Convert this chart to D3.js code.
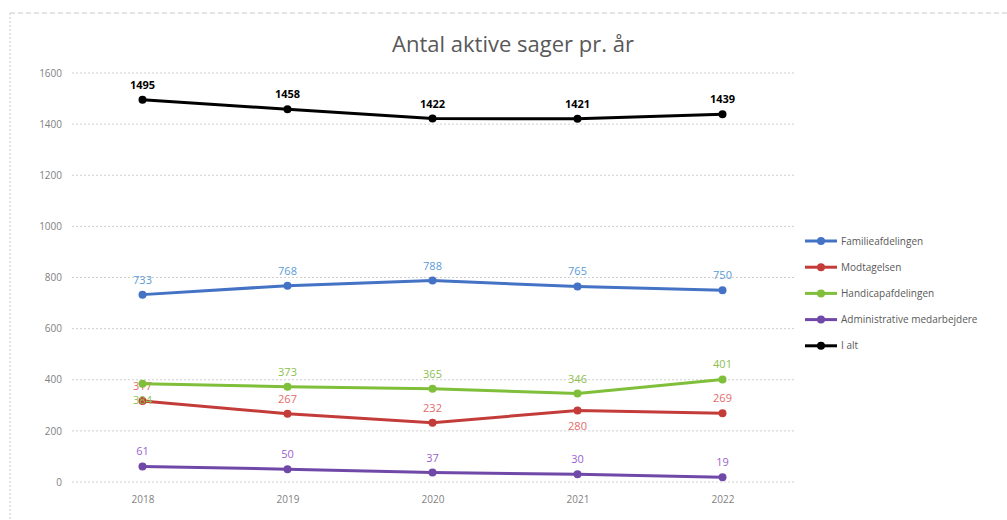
<!DOCTYPE html>
<html>
<head>
<meta charset="utf-8">
<script src="https://cdn.jsdelivr.net/npm/d3@7"></script>
<style>
  body { margin: 0; background: #fff; }
  text { font-family: "Open Sans", "Noto Sans", sans-serif; }
</style>
</head>
<body>
<div class="chart"></div>
<script>
const years = ["2018", "2019", "2020", "2021", "2022"];
const yTicks = [0, 200, 400, 600, 800, 1000, 1200, 1400, 1600];

const familie = [733, 768, 788, 765, 750];
const modtagelsen = [317, 267, 232, 280, 269];
const handicap = [384, 373, 365, 346, 401];
const admin = [61, 50, 37, 30, 19];
const ialt = [1495, 1458, 1422, 1421, 1439];

const seriesNames = ["Familieafdelingen", "Modtagelsen", "Handicapafdelingen",
  "Administrative medarbejdere", "I alt"];
// label above (-1) or below (1) the point
const modtagelsenPos = [-1, -1, -1, 1, -1];
const handicapPos = [1, -1, -1, -1, -1];

const width = 1007, height = 520;
const margin = { left: 70, right: 212, top: 73, bottom: 38 };

const svg = d3.select(".chart").append("svg")
    .attr("width", width)
    .attr("height", height);

// chart border (dashed, as in the picture)
svg.append("line")
    .attr("x1", 10).attr("x2", width).attr("y1", 13).attr("y2", 13)
    .attr("stroke", "#c8c8c8").attr("stroke-dasharray", "5,3");
svg.append("line")
    .attr("x1", 10).attr("x2", 10).attr("y1", 13).attr("y2", height)
    .attr("stroke", "#c8c8c8").attr("stroke-dasharray", "2,2");

svg.append("text")
    .attr("x", 513).attr("y", 52)
    .attr("text-anchor", "middle")
    .attr("font-size", 22)
    .attr("fill", "#595959")
    .text("Antal aktive sager pr. år");

const x = d3.scalePoint()
    .domain(years)
    .range([margin.left, width - margin.right])
    .padding(0.5);

const y = d3.scaleLinear()
    .domain([0, 1600])
    .range([height - margin.bottom, margin.top]);

// gridlines
svg.append("g")
    .selectAll("line")
    .data(yTicks)
    .join("line")
        .attr("x1", margin.left + 2)
        .attr("x2", width - margin.right)
        .attr("y1", d => y(d))
        .attr("y2", d => y(d))
        .attr("stroke", "#cfcfcf")
        .attr("stroke-dasharray", "2,2");

const yAxis = svg.append("g")
    .attr("transform", `translate(${margin.left - 8},0)`)
    .call(d3.axisLeft(y).tickValues(yTicks).tickFormat(d3.format("d"))
        .tickSize(0).tickPadding(0));
yAxis.select(".domain").remove();
yAxis.selectAll("text").attr("font-size", 10).attr("fill", "#7f7f7f")
    .style("font-family", "Open Sans, sans-serif");

const xAxis = svg.append("g")
    .attr("transform", `translate(0,${height - margin.bottom + 10})`)
    .call(d3.axisBottom(x).tickSize(0).tickPadding(4));
xAxis.select(".domain").remove();
xAxis.selectAll("text").attr("font-size", 10).attr("fill", "#7f7f7f")
    .style("font-family", "Open Sans, sans-serif");

const series = [
  { name: seriesNames[0], values: familie, color: "#4472c4", label: "#5b9bd5", pos: [-1, -1, -1, -1, -1] },
  { name: seriesNames[1], values: modtagelsen, color: "#c43c39", label: "#e46c6a", pos: modtagelsenPos },
  { name: seriesNames[2], values: handicap, color: "#7fbf3a", label: "#8cc04f", pos: handicapPos },
  { name: seriesNames[3], values: admin, color: "#7048a8", label: "#9a5fd0", pos: [-1, -1, -1, -1, -1] },
  { name: seriesNames[4], values: ialt, color: "#000000", label: "#000000", pos: [-1, -1, -1, -1, -1], bold: true }
];

const line = d3.line()
    .x((d, i) => x(years[i]))
    .y(d => y(d));

series.forEach(s => {
  const g = svg.append("g");
  g.append("path")
      .datum(s.values)
      .attr("d", line)
      .attr("fill", "none")
      .attr("stroke", s.color)
      .attr("stroke-width", 3);
  g.selectAll("circle")
      .data(s.values)
      .join("circle")
        .attr("cx", (d, i) => x(years[i]))
        .attr("cy", d => y(d))
        .attr("r", 4)
        .attr("fill", s.color);
  g.selectAll("text")
      .data(s.values)
      .join("text")
        .attr("x", (d, i) => x(years[i]))
        .attr("y", (d, i) => y(d) + (s.pos[i] < 0 ? -11 : 20))
        .attr("text-anchor", "middle")
        .attr("font-size", 11)
        .attr("font-weight", s.bold ? "bold" : "normal")
        .attr("fill", s.label)
        .text(d => d);
});

// legend
const legend = svg.append("g")
    .attr("transform", "translate(805,241)");
const item = legend.selectAll("g")
    .data(series)
    .join("g")
        .attr("transform", (d, i) => `translate(0,${i * 26.2})`);
item.append("line")
    .attr("x1", 0).attr("x2", 32)
    .attr("stroke", d => d.color)
    .attr("stroke-width", 3);
item.append("circle")
    .attr("cx", 16).attr("r", 4)
    .attr("fill", d => d.color);
item.append("text")
    .attr("x", 36).attr("dy", "0.35em")
    .attr("font-size", 10)
    .attr("fill", "#595959")
    .text(d => d.name);
</script>
</body>
</html>
